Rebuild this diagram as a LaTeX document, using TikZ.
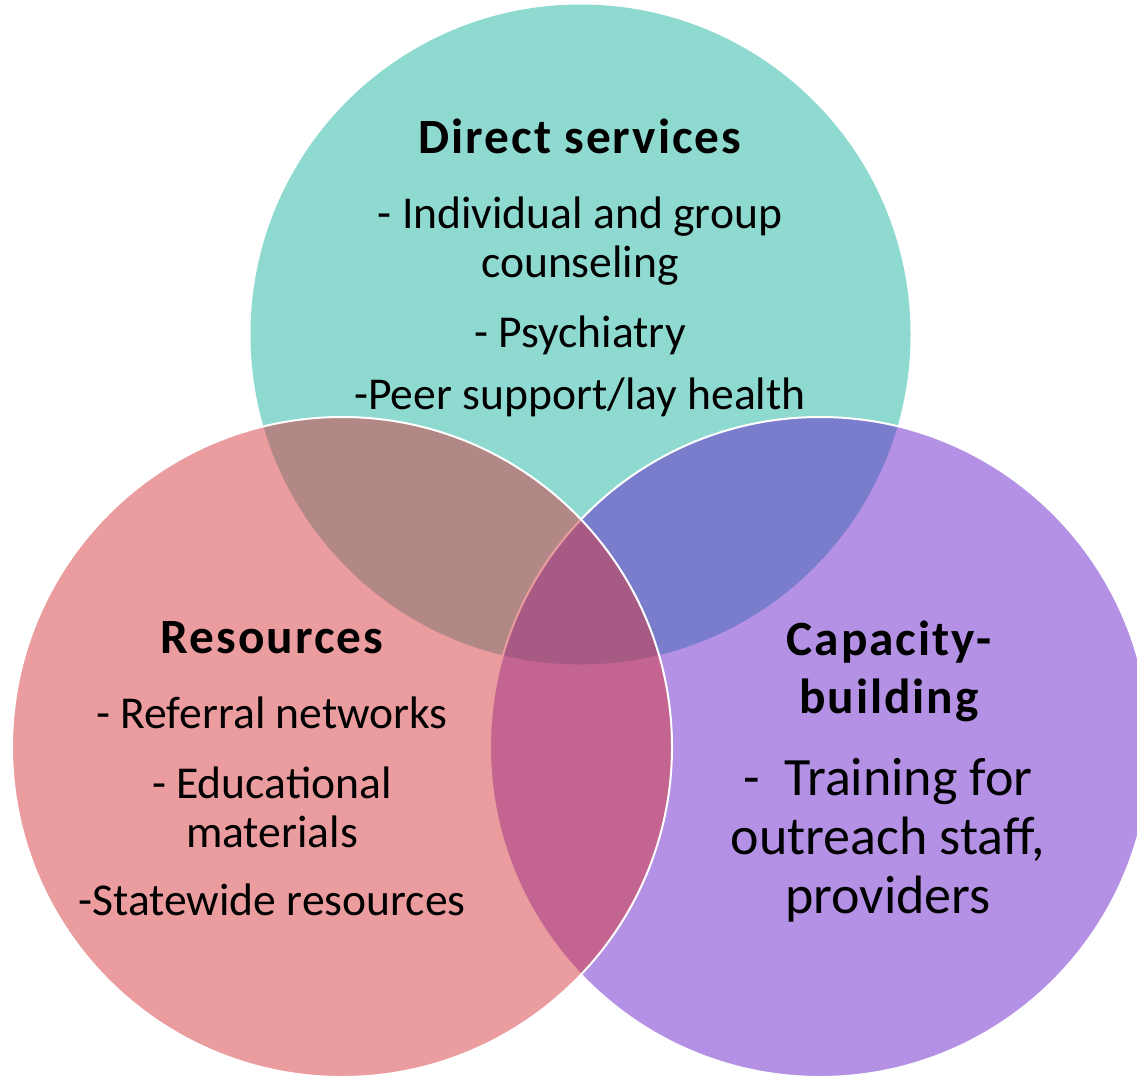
\documentclass[tikz,border=0pt]{standalone}
\usepackage{fontspec}
\setmainfont{Carlito}
\newfontfamily\headfont[LetterSpace=4]{Carlito}
\definecolor{servcol}{RGB}{29,179,161}
\definecolor{capcol}{RGB}{105,35,201}
\definecolor{rescol}{RGB}{213,57,61}

\begin{document}
\begin{tikzpicture}[x=0.75pt, y=0.75pt,
    venn/.style={circle, minimum size=495pt, inner sep=0pt, fill opacity=0.5},
    rim/.style={draw=white, line width=1.5pt},
    heading/.style={font=\headfont\bfseries\fontsize{37}{43.5}\selectfont, align=center, anchor=base},
    item/.style={font=\fontsize{34.2}{36.75}\selectfont, align=center, anchor=base}]
    \useasboundingbox (0,0) rectangle (1137,-1081);
    % the three sets
    \path (580.5,-334.5) node [venn, fill=servcol] (services) {};
    \path (  820,  -747) node [venn, rim, fill=capcol] (capacity) {};
    \path (  342,  -747) node [venn, rim, fill=rescol] (resources) {};
    % direct services (base = last line)
    \path (580, -153) node [heading] (servtitle) {Direct services};
    \path (580, -277) node [item] (counsel) {- Individual and group\\counseling};
    \path (580, -347) node [item] (psych) {- Psychiatry};
    \path (580, -409) node [item] (peer) {-Peer support/lay health};
    % resources
    \path (272, -653) node [heading] (restitle) {Resources};
    \path (272, -728) node [item] (referral) {- Referral networks};
    \path (272, -847) node [item] (educ) {- Educational\\materials};
    \path (272, -915) node [item] (statewide) {-Statewide resources};
    % capacity-building
    \path (889, -713) node [heading] (captitle) {Capacity-\\building};
    \path (888, -913) node [item, font=\fontsize{40.5}{44}\selectfont] (training) {-\ \ Training for\\outreach staff,\\providers};
\end{tikzpicture}
\end{document}
